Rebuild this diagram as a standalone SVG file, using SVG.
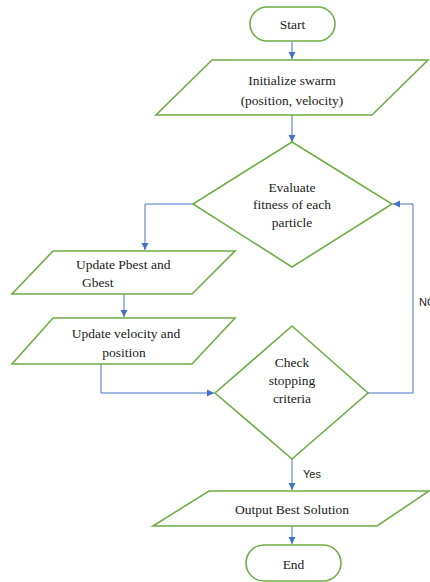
<svg xmlns="http://www.w3.org/2000/svg" width="430" height="582" viewBox="0 0 430 582">
<style>
.shape{fill:#fff;stroke:#70AD47;stroke-width:1.6}
.t{font-family:"Liberation Serif","Times New Roman",serif;font-size:13.5px;fill:#222}
.c{text-anchor:middle}
.conn{fill:none;stroke:#4472C4;stroke-width:1}
.lbl{font-family:"Liberation Sans",Arial,sans-serif;font-size:11px;fill:#222}
</style>
<defs>
<marker id="ah" markerWidth="8" markerHeight="8" refX="7" refY="4" orient="auto" markerUnits="userSpaceOnUse">
<path d="M0,0.5 L7,4 L0,7.5 Z" fill="#4472C4"/>
</marker>
</defs>
<rect width="430" height="582" fill="#fff"/>
<g id="connectors">
<path class="conn" d="M292,42 L292,59" marker-end="url(#ah)"/>
<path class="conn" d="M292,115 L292,142" marker-end="url(#ah)"/>
<path class="conn" d="M193,204 L145,204 L145,250" marker-end="url(#ah)"/>
<path class="conn" d="M124,294 L124,317" marker-end="url(#ah)"/>
<path class="conn" d="M101,364 L101,393 L214,393" marker-end="url(#ah)"/>
<path class="conn" d="M368,393 L413,393 L413,204 L393,204" marker-end="url(#ah)"/>
<path class="conn" d="M292,459 L292,490" marker-end="url(#ah)"/>
<path class="conn" d="M292,526 L292,544" marker-end="url(#ah)"/>
<text class="lbl" x="419" y="306">NO</text>
<text class="lbl" x="303" y="478">Yes</text>
</g>
<g id="start">
<rect class="shape" x="250" y="7" width="85" height="34" rx="17"/>
<text class="t c" x="292.5" y="28.5">Start</text>
</g>
<g id="init">
<polygon class="shape" points="212,60 428,60 372,115 156,115"/>
<text class="t c" x="292" y="84.5">Initialize swarm</text>
<text class="t c" x="292" y="104.5">(position, velocity)</text>
</g>
<g id="evaluate">
<polygon class="shape" points="292,142 392,204 292,267 193,204"/>
<text class="t c" x="292" y="191.5">Evaluate</text>
<text class="t c" x="292" y="208.5">fitness of each</text>
<text class="t c" x="292" y="226.5">particle</text>
</g>
<g id="pbest">
<polygon class="shape" points="53,251 235,251 192,294 12,294"/>
<text class="t" x="76" y="268.5">Update Pbest and</text>
<text class="t" x="82" y="286.5">Gbest</text>
</g>
<g id="velocity">
<polygon class="shape" points="53,318 235,318 192,364 12,364"/>
<text class="t c" x="126" y="337.5">Update velocity and</text>
<text class="t c" x="124" y="356.5">position</text>
</g>
<g id="check">
<polygon class="shape" points="292,326 368,393 292,459 215,393"/>
<text class="t c" x="292" y="366.5">Check</text>
<text class="t c" x="292" y="384.5">stopping</text>
<text class="t c" x="292" y="402.5">criteria</text>
</g>
<g id="output">
<polygon class="shape" points="209,491 429,491 377,526 153,526"/>
<text class="t c" x="292" y="513.5">Output Best Solution</text>
</g>
<g id="end">
<rect class="shape" x="246" y="545" width="95" height="36" rx="18"/>
<text class="t c" x="293.5" y="568.5">End</text>
</g>
</svg>
